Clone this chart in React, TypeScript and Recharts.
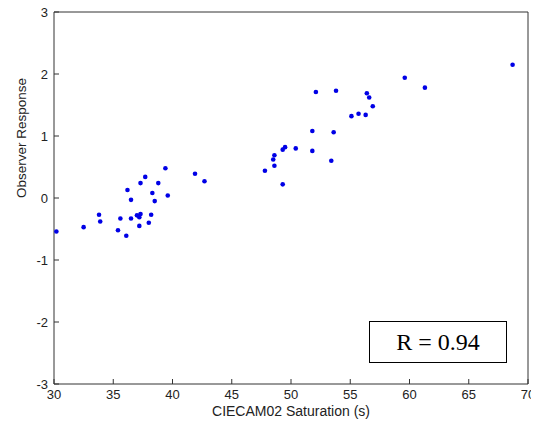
import React from 'react';
import { ScatterChart, Scatter, XAxis, YAxis } from 'recharts';

// CIECAM02 saturation (s) of each sample
const saturation = [
  30.2, 32.5, 33.8, 33.9, 35.4, 35.6, 36.1, 36.2, 36.5, 36.5, 37.0, 37.2, 37.3, 37.2, 37.3, 37.7,
  38.0, 38.2, 38.3, 38.5, 38.8, 39.4, 39.6, 41.9, 42.7, 47.8, 48.5, 48.6, 48.6, 49.3, 49.3, 49.5,
  50.4, 51.8, 51.8, 52.1, 53.4, 53.6, 53.8, 55.1, 55.7, 56.3, 56.4, 56.6, 56.9, 59.6, 61.3, 68.7,
];

// observer response for the same samples
const response = [
  -0.54, -0.47, -0.27, -0.38, -0.52, -0.33, -0.61, 0.13, -0.03, -0.33, -0.28, -0.31, -0.26, -0.45, 0.24, 0.34,
  -0.4, -0.27, 0.08, -0.05, 0.24, 0.48, 0.04, 0.39, 0.27, 0.44, 0.62, 0.69, 0.52, 0.78, 0.22, 0.82,
  0.8, 0.76, 1.08, 1.71, 0.6, 1.06, 1.73, 1.32, 1.36, 1.34, 1.69, 1.62, 1.48, 1.94, 1.78, 2.15,
];

const xTicks = [30, 35, 40, 45, 50, 55, 60, 65, 70];
const yTicks = [-3, -2, -1, 0, 1, 2, 3];
const correlation = 'R = 0.94';

const points = saturation.map((s, i) => ({ s, r: response[i] }));

const axisColor = '#333';
const font = 'Arial, "Liberation Sans", sans-serif';
const tickStyle = { fill: '#222', fontSize: 13, fontFamily: font };

const Dot = (props: any) => {
  const { cx, cy } = props;
  return <circle cx={cx} cy={cy} r={2.3} fill="#0000e6" />;
};

export default function App() {
  // cancel the body margin so the chart lines up with the page
  return (
    <div style={{ position: 'relative', width: 539, height: 429, margin: '-8px 0 0 -8px' }}>
      <ScatterChart width={539} height={429} margin={{ top: 11, right: 10, bottom: 0, left: 0 }}>
        <XAxis
          type="number"
          dataKey="s"
          domain={[30, 70]}
          ticks={xTicks}
          interval={0}
          height={45}
          stroke={axisColor}
          tickSize={-5}
          tickMargin={11}
          tick={tickStyle}
          label={{ value: 'CIECAM02 Saturation (s)', position: 'insideBottom', offset: 13, fill: '#222', fontSize: 14, fontFamily: font }}
        />
        <XAxis
          xAxisId="top"
          orientation="top"
          type="number"
          domain={[30, 70]}
          allowDataOverflow
          ticks={xTicks}
          interval={0}
          height={1}
          stroke={axisColor}
          tickSize={-5}
          tick={false}
        />
        <YAxis
          type="number"
          dataKey="r"
          domain={[-3, 3]}
          ticks={yTicks}
          interval={0}
          width={54}
          stroke={axisColor}
          tickSize={-5}
          tickMargin={11}
          tick={tickStyle}
          label={{ value: 'Observer Response', angle: -90, position: 'insideLeft', offset: 21, fill: '#222', fontSize: 13.5, fontFamily: font }}
        />
        <YAxis
          yAxisId="right"
          orientation="right"
          type="number"
          domain={[-3, 3]}
          allowDataOverflow
          ticks={yTicks}
          interval={0}
          width={1}
          stroke={axisColor}
          tickSize={-5}
          tick={false}
        />
        <Scatter data={points} shape={<Dot />} isAnimationActive={false} />
      </ScatterChart>
      <div
        style={{
          position: 'absolute',
          left: 369,
          top: 321,
          width: 136,
          height: 40,
          border: '1px solid #000',
          background: '#fff',
          display: 'flex',
          alignItems: 'center',
          justifyContent: 'center',
          fontFamily: '"Liberation Serif", "Times New Roman", serif',
          fontSize: 24,
          color: '#000',
        }}
      >
        {correlation}
      </div>
    </div>
  );
}
